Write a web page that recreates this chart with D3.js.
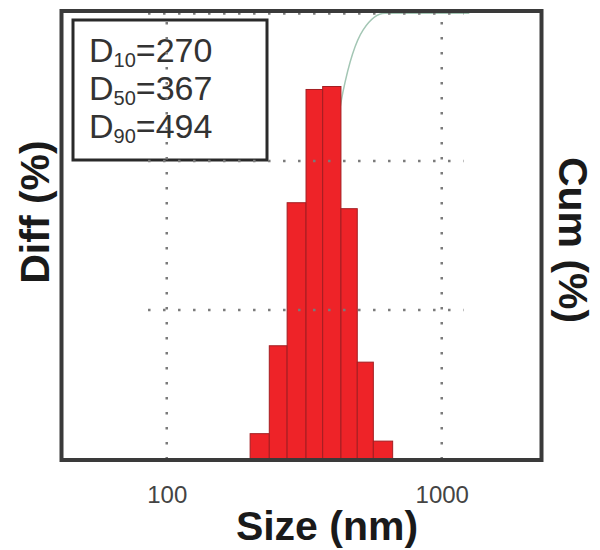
<!DOCTYPE html>
<html>
<head>
<meta charset="utf-8">
<title>Size distribution</title>
<style>
  body { margin: 0; background: #fff; }
  text { font-family: "Liberation Sans", Arial, Helvetica, sans-serif; }
</style>
</head>
<body>
<svg id="chart" width="600" height="550"></svg>
<script src="https://cdnjs.cloudflare.com/ajax/libs/d3/7.8.5/d3.min.js"></script>
<script>
// bin edges (nm) and differential % per bin
var binEdges = [201, 236, 274, 321, 369, 430, 493, 564, 663];
var diffValues = [1.7, 7.6, 17.2, 24.8, 25.0, 16.8, 6.5, 1.2];

// cumulative curve (nm, %)
var cumSizes = [201, 236, 274, 321, 369, 437, 518, 622, 1260];
var cumValues = [0, 1.7, 9.3, 26.5, 51.5, 82, 96, 99.7, 99.7];

var xTickValues = [100, 1000];
var diffGrid = [10, 20, 30];
var legendRows = [["10", "270"], ["50", "367"], ["90", "494"]];

var svg = d3.select("#chart");
var plotLeft = 62, plotRight = 541, plotTop = 12, plotBottom = 459;

var x = d3.scaleLog().domain([41.6, 2296]).range([plotLeft, plotRight]);
var yDiff = d3.scaleLinear().domain([0, 30]).range([plotBottom, plotTop]);
var yCum = d3.scaleLinear().domain([0, 100]).range([plotBottom, plotTop]);

// cumulative curve sits behind the bars
var line = d3.line()
  .x(function (d, i) { return x(cumSizes[i]); })
  .y(function (d) { return yCum(d); })
  .curve(d3.curveMonotoneX);

svg.append("path")
  .attr("d", line(cumValues))
  .attr("fill", "none")
  .attr("stroke", "#a3c6b4")
  .attr("stroke-width", 1.5);

var bins = diffValues.map(function (v, i) { return { x0: binEdges[i], x1: binEdges[i + 1], v: v }; });

svg.append("g").selectAll("rect").data(bins).enter()
  .append("rect")
  .attr("x", function (d) { return x(d.x0); })
  .attr("width", function (d) { return x(d.x1) - x(d.x0); })
  .attr("y", function (d) { return yDiff(d.v); })
  .attr("height", function (d) { return yDiff(0) - yDiff(d.v); })
  .attr("fill", "#ee2328")
  .attr("stroke", "#a31e22")
  .attr("stroke-width", 1);

// legend box
svg.append("rect")
  .attr("x", 73).attr("y", 20).attr("width", 194).attr("height", 140)
  .attr("fill", "#fff").attr("stroke", "#2a2a2a").attr("stroke-width", 3);

var legend = svg.append("g");
legendRows.forEach(function (r, i) {
  var t = legend.append("text")
    .attr("x", 89).attr("y", 62 + i * 38)
    .attr("font-size", 34).attr("fill", "#333");
  t.append("tspan").text("D");
  t.append("tspan").attr("font-size", 20).attr("dy", 5).text(r[0]);
  t.append("tspan").attr("dy", -5).text("=" + r[1]);
});

// dotted grid
var grid = svg.append("g").attr("stroke", "#7a7a7a").attr("stroke-width", 2.5)
  .attr("stroke-dasharray", "2.5,12.5");

grid.selectAll("line.h").data(diffGrid).enter().append("line")
  .attr("x1", x(85.5)).attr("x2", x(1200))
  .attr("y1", function (d) { return Math.max(yDiff(d), 13.5); })
  .attr("y2", function (d) { return Math.max(yDiff(d), 13.5); });

grid.selectAll("line.v").data(xTickValues).enter().append("line")
  .attr("x1", function (d) { return x(d); }).attr("x2", function (d) { return x(d); })
  .attr("y1", 22).attr("y2", plotBottom);

// frame
svg.append("rect")
  .attr("x", plotLeft - 0.5).attr("y", plotTop - 1)
  .attr("width", plotRight - plotLeft + 1).attr("height", plotBottom - plotTop + 2)
  .attr("fill", "none").attr("stroke", "#3a3a3a").attr("stroke-width", 4);

// x axis tick labels
var xAxis = d3.axisBottom(x).tickValues(xTickValues).tickSize(0).tickFormat(d3.format("d"));
var ax = svg.append("g").attr("transform", "translate(0," + (plotBottom + 2) + ")").call(xAxis);
ax.select(".domain").remove();
ax.selectAll("text")
  .attr("y", 42).attr("dy", 0)
  .attr("font-size", 24).attr("fill", "#444")
  .style("font-family", "'Liberation Sans', Arial, sans-serif");

// axis titles
svg.append("text")
  .attr("x", 327).attr("y", 540)
  .attr("text-anchor", "middle")
  .attr("font-size", 41).attr("font-weight", "bold").attr("fill", "#1a1a1a")
  .text("Size (nm)");

svg.append("text")
  .attr("transform", "translate(49,212) rotate(-90)")
  .attr("text-anchor", "middle")
  .attr("font-size", 41).attr("font-weight", "bold").attr("fill", "#1a1a1a")
  .text("Diff (%)");

svg.append("text")
  .attr("transform", "translate(559,240) rotate(90)")
  .attr("text-anchor", "middle")
  .attr("font-size", 41).attr("font-weight", "bold").attr("fill", "#1a1a1a")
  .text("Cum (%)");
</script>
</body>
</html>
